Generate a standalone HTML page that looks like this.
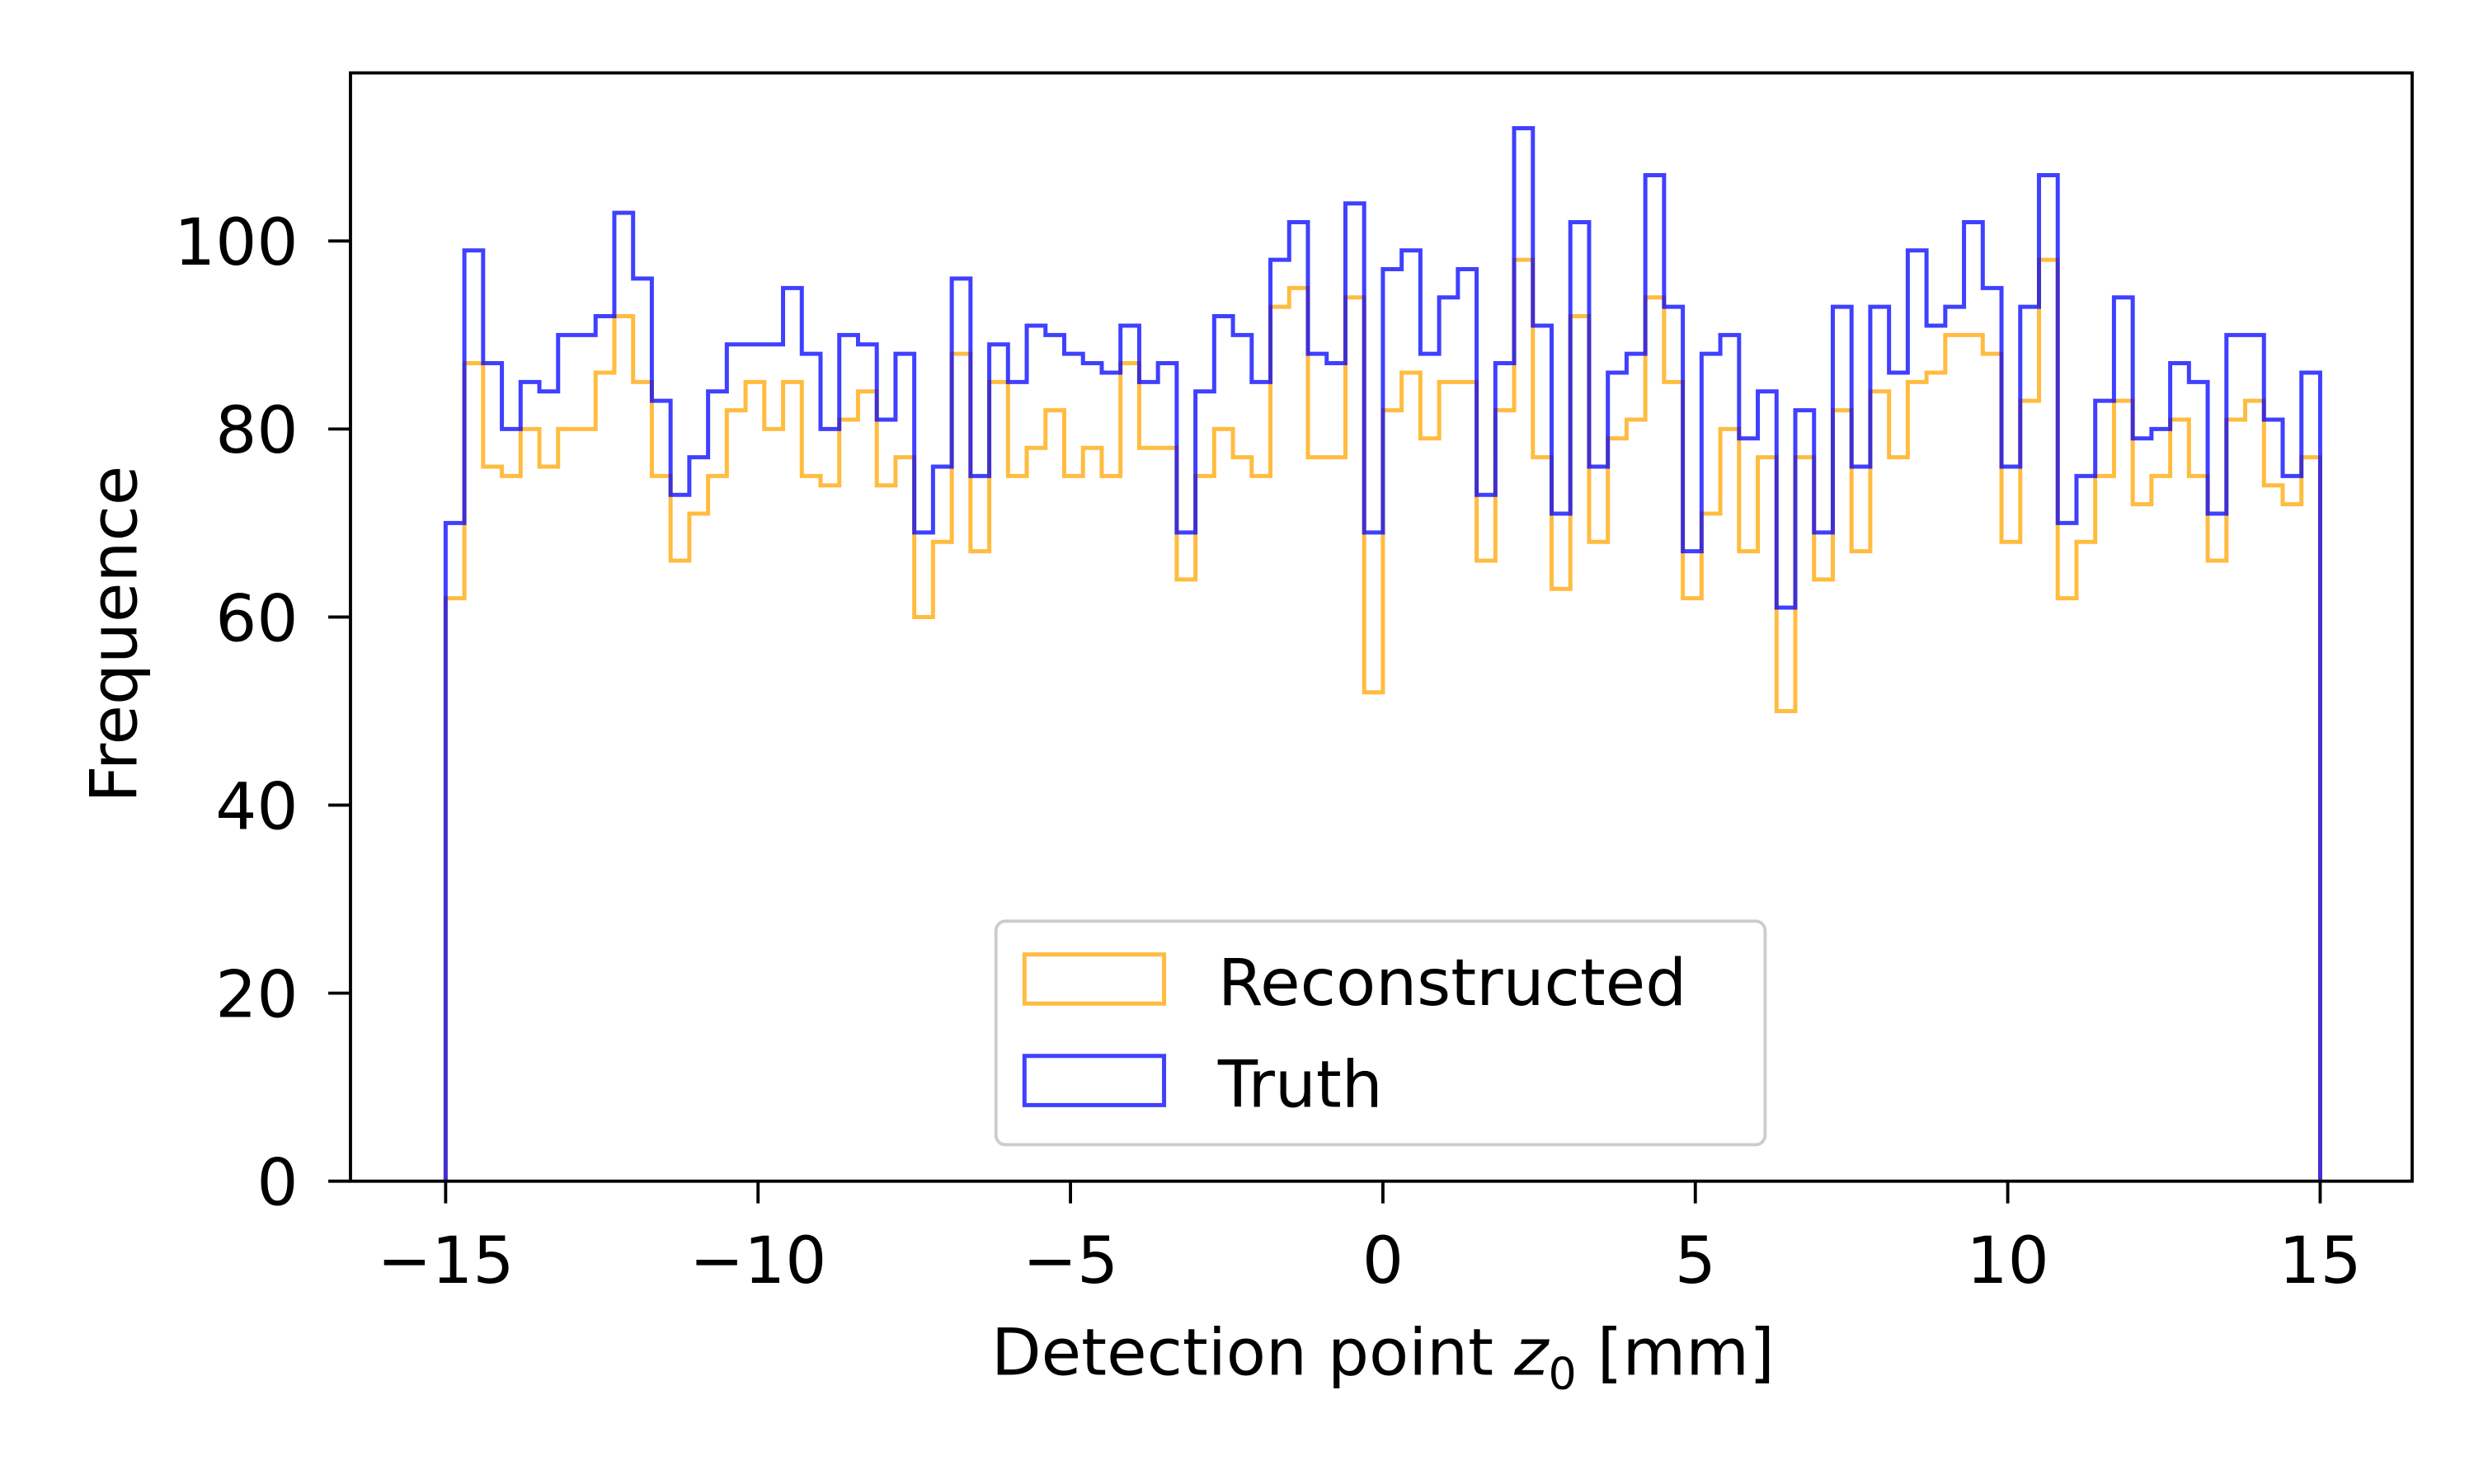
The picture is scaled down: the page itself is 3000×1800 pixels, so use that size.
<!DOCTYPE html>
<html><head><meta charset="utf-8"><style>
html,body{margin:0;padding:0;background:#fff;}
svg{display:block;}
text{font-family:"DejaVu Sans","Liberation Sans",sans-serif;fill:#000;}
</style></head><body>
<svg id="chart" width="3000" height="1800" viewBox="0 0 1560 936" xmlns="http://www.w3.org/2000/svg">
<rect x="0" y="0" width="1560" height="936" fill="#fff"/>
<g id="marks"></g>
<g id="axes"></g>
</svg>
<script>
const binStart = -15;
const binEnd = 15;
const reconstructed = [62,87,76,75,80,76,80,80,86,92,85,75,66,71,75,82,85,80,85,75,74,81,84,74,77,60,68,88,67,85,75,78,82,75,78,75,87,78,78,64,75,80,77,75,93,95,77,77,94,52,82,86,79,85,85,66,82,98,77,63,92,68,79,81,94,85,62,71,80,67,77,50,77,64,82,67,84,77,85,86,90,90,88,68,83,98,62,68,75,83,72,75,81,75,66,81,83,74,72,77];
const truth = [70,99,87,80,85,84,90,90,92,103,96,83,73,77,84,89,89,89,95,88,80,90,89,81,88,69,76,96,75,89,85,91,90,88,87,86,91,85,87,69,84,92,90,85,98,102,88,87,104,69,97,99,88,94,97,73,87,112,91,71,102,76,86,88,107,93,67,88,90,79,84,61,82,69,93,76,93,86,99,91,93,102,95,76,93,107,70,75,83,94,79,80,87,85,71,90,90,81,75,86];
const xTicks = [-15,-10,-5,0,5,10,15];
const yTicks = [0,20,40,60,80,100];

const NS = "http://www.w3.org/2000/svg";
const L = 221, R = 1521, T = 46, B = 745;
function xs(v){ return 281 + (v + 15) * (1463 - 281) / 30; }
function ys(v){ return 745 - v * (745 - 152) / 100; }
function mk(tag, attrs, parent){
  const e = document.createElementNS(NS, tag);
  for (const k in attrs) e.setAttribute(k, attrs[k]);
  parent.appendChild(e);
  return e;
}
const marks = document.getElementById('marks');
const axes = document.getElementById('axes');

function stepPath(vals){
  const n = vals.length, w = (binEnd - binStart) / n;
  let d = 'M' + xs(binStart) + ',' + ys(0);
  for (let i = 0; i < n; i++){
    const x0 = xs(binStart + i * w), x1 = xs(binStart + (i + 1) * w);
    d += ' L' + x0 + ',' + ys(vals[i]) + ' L' + x1 + ',' + ys(vals[i]);
  }
  d += ' L' + xs(binEnd) + ',' + ys(0);
  return d;
}
const pRec = mk('path', {d: stepPath(reconstructed), fill:'none', stroke:'#FFA500', 'stroke-opacity':0.75, 'stroke-width':2.6, 'stroke-linejoin':'miter'}, marks);


const pTru = mk('path', {d: stepPath(truth), fill:'none', stroke:'#0000FF', 'stroke-opacity':0.75, 'stroke-width':2.6, 'stroke-linejoin':'miter'}, marks);



const frame = mk('rect', {x:L, y:T, width:R-L, height:B-T, fill:'none', stroke:'#000', 'stroke-width':2}, axes);



xTicks.forEach(v => {
  const t = mk('line', {x1:xs(v), x2:xs(v), y1:B, y2:B+14, stroke:'#000', 'stroke-width':2}, axes);
  
  
  const lb = mk('text', {x:xs(v), y:B+64, 'text-anchor':'middle', 'font-size':41}, axes);
  lb.textContent = v < 0 ? '\u2212' + Math.abs(v) : String(v);
  
  
});
yTicks.forEach(v => {
  const t = mk('line', {x1:L-14, x2:L, y1:ys(v), y2:ys(v), stroke:'#000', 'stroke-width':2}, axes);
  
  
  const lb = mk('text', {x:L-33, y:ys(v)+15, 'text-anchor':'end', 'font-size':41}, axes);
  lb.textContent = String(v);
  
  
});
</script>
<svg style="position:absolute;left:0;top:0" width="3000" height="1800" viewBox="0 0 1560 936" xmlns="http://www.w3.org/2000/svg">
<text x="872" y="867" text-anchor="middle" font-size="41">Detection point <tspan font-style="italic">z</tspan><tspan font-size="28" dy="9">0</tspan><tspan dy="-9"> [mm]</tspan></text>
<text transform="translate(86,400) rotate(-90)" text-anchor="middle" font-size="41">Frequence</text>
<g>
<rect x="628" y="581" width="485" height="141" rx="6" fill="#fff" fill-opacity="0.8" stroke="#cccccc" stroke-width="2"/>
<rect x="646" y="602" width="88" height="31" fill="none" stroke="#FFA500" stroke-opacity="0.75" stroke-width="2.6"/>
<text x="768" y="634" font-size="41">Reconstructed</text>
<rect x="646" y="666" width="88" height="31" fill="none" stroke="#0000FF" stroke-opacity="0.75" stroke-width="2.6"/>
<text x="768" y="698" font-size="41">Truth</text>
</g>
</svg>
</body></html>
